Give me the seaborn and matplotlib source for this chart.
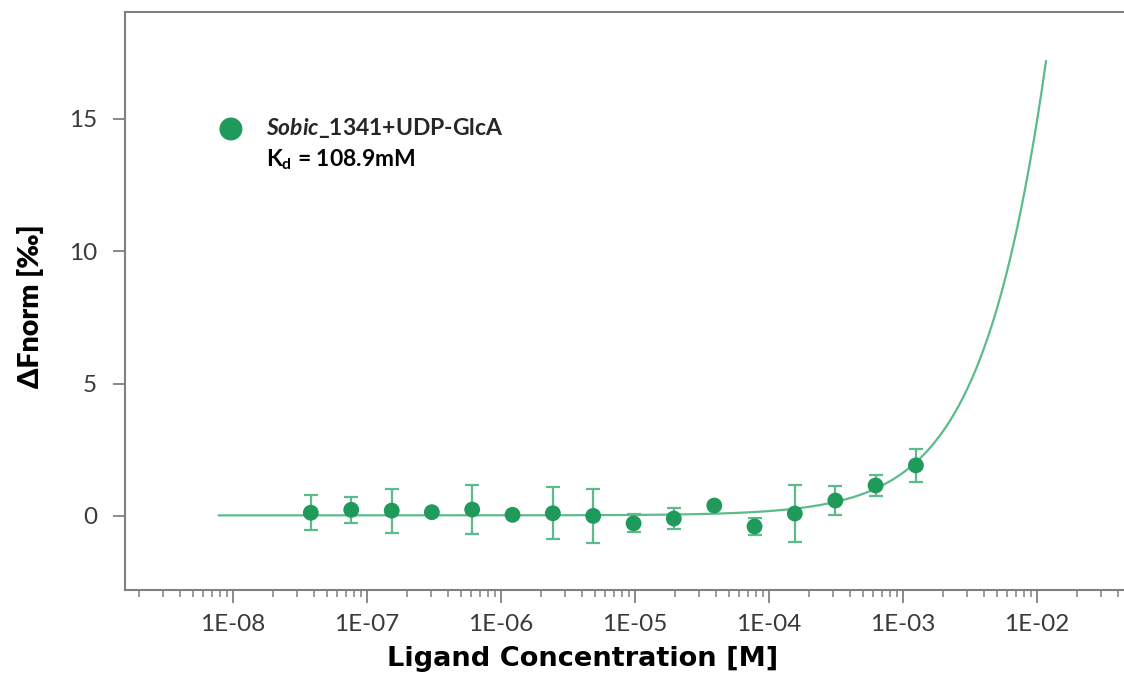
import numpy as np
import pandas as pd
import matplotlib
matplotlib.use("Agg")
import matplotlib.pyplot as plt
import matplotlib.ticker as mticker
import seaborn as sns

# ligand concentration series (M), 1:1 dilutions from 1.25 mM
conc = [3.81e-08, 7.63e-08, 1.53e-07, 3.05e-07, 6.10e-07, 1.22e-06, 2.44e-06, 4.88e-06,
        9.77e-06, 1.95e-05, 3.91e-05, 7.81e-05, 1.56e-04, 3.13e-04, 6.25e-04, 1.25e-03]
fnorm = [0.12, 0.23, 0.20, 0.14, 0.24, 0.04, 0.10, 0.00,
         -0.28, -0.10, 0.39, -0.40, 0.09, 0.58, 1.15, 1.91]
fnorm_err = [0.67, 0.48, 0.83, 0.10, 0.93, 0.05, 0.99, 1.03,
             0.34, 0.39, 0.10, 0.31, 1.07, 0.56, 0.41, 0.63]
decade_ticks = [1e-08, 1e-07, 1e-06, 1e-05, 1e-04, 1e-03, 1e-02, 1e-01]
decade_labels = ["1E-08", "1E-07", "1E-06", "1E-05", "1E-04", "1E-03", "1E-02", "1E-01"]

# fit parameters (Kd model)
kd = 0.1089
unbound = 0.02
amplitude = 177.0
target = 2e-08
fit_range = (7.8e-09, 1.17e-02)

point_color = "#1f9a5a"
line_color = "#5cbb8b"

df = pd.DataFrame({"conc": conc, "fnorm": fnorm, "err": fnorm_err})

c_fit = np.logspace(np.log10(fit_range[0]), np.log10(fit_range[1]), 400)
s = c_fit + target + kd
frac = (s - np.sqrt(s ** 2 - 4 * c_fit * target)) / (2 * target)
fit_df = pd.DataFrame({"conc": c_fit, "fnorm": unbound + amplitude * frac})

sns.set_style("ticks")
plt.rcParams["font.family"] = ["Lato", "DejaVu Sans"]
plt.rcParams["mathtext.fontset"] = "custom"
plt.rcParams["mathtext.rm"] = "Lato:bold"
plt.rcParams["mathtext.it"] = "Lato:italic:bold"
plt.rcParams["mathtext.bf"] = "Lato:bold"

W, H = 1124, 681
fig = plt.figure(figsize=(W / 100, H / 100), dpi=100)
ax = fig.add_axes([125 / W, 1 - 590 / H, 1.0 - 125 / W, (590 - 12) / H])

sns.lineplot(data=fit_df, x="conc", y="fnorm", color=line_color, lw=1.6, ax=ax)
ax.errorbar(df["conc"], df["fnorm"], yerr=df["err"], fmt="none",
            ecolor=line_color, elinewidth=1.6, capsize=5, capthick=1.6, zorder=3)
sns.scatterplot(data=df, x="conc", y="fnorm", color=point_color, s=130,
                edgecolor="none", ax=ax, zorder=4,
                label="$\\it{Sobic}$_1341+UDP-GlcA")

ax.set_xscale("log")
ax.set_ylim(-2.8, 19.04)
ax.set_yticks([0, 5, 10, 15])
ax.set_xticks(decade_ticks)
ax.set_xticklabels(decade_labels)
ax.xaxis.set_minor_locator(mticker.LogLocator(base=10, subs=np.arange(2, 10), numticks=20))
ax.xaxis.set_minor_formatter(mticker.NullFormatter())
ax.set_xlim(10 ** -8.806, 10 ** -1.35)

for side in ["left", "bottom", "top"]:
    ax.spines[side].set_color("#808080")
    ax.spines[side].set_linewidth(1.5)
ax.spines["right"].set_visible(False)
ax.tick_params(axis="both", which="major", length=9, width=1.3, color="#808080",
               labelsize=17.5, labelcolor="#3a3a3a")
ax.tick_params(axis="x", which="major", pad=8)
ax.tick_params(axis="y", which="major", pad=11)
ax.tick_params(axis="x", which="minor", length=5, width=1.1, color="#808080")

ax.set_xlabel("Ligand Concentration [M]", family=["DejaVu Sans"],
              fontweight="bold", fontsize=19.6, color="black")
ax.xaxis.set_label_coords((583 - 125) / 999, (590 - 646) / 578)
ax.set_ylabel("\u0394Fnorm [\u2030]", fontweight="heavy", fontsize=20.5, color="black")
ax.yaxis.set_label_coords((44 - 125) / 999, (590 - 306) / 578)

leg_fs = 16.5
ax.legend(loc="center left", bbox_to_anchor=(208 / W, 1 - 128 / H),
          bbox_transform=fig.transFigure, frameon=False,
          prop={"weight": "bold", "size": leg_fs}, handlelength=2.0,
          handletextpad=0.53, borderaxespad=0, borderpad=0, markerscale=1.45)
fig.text(266 / W, 1 - 160 / H, "K$_\\mathrm{d}$ = 108.9mM", fontweight="bold",
         fontsize=leg_fs, va="center", ha="left", color="black")

fig.savefig("out.png", dpi=100)
